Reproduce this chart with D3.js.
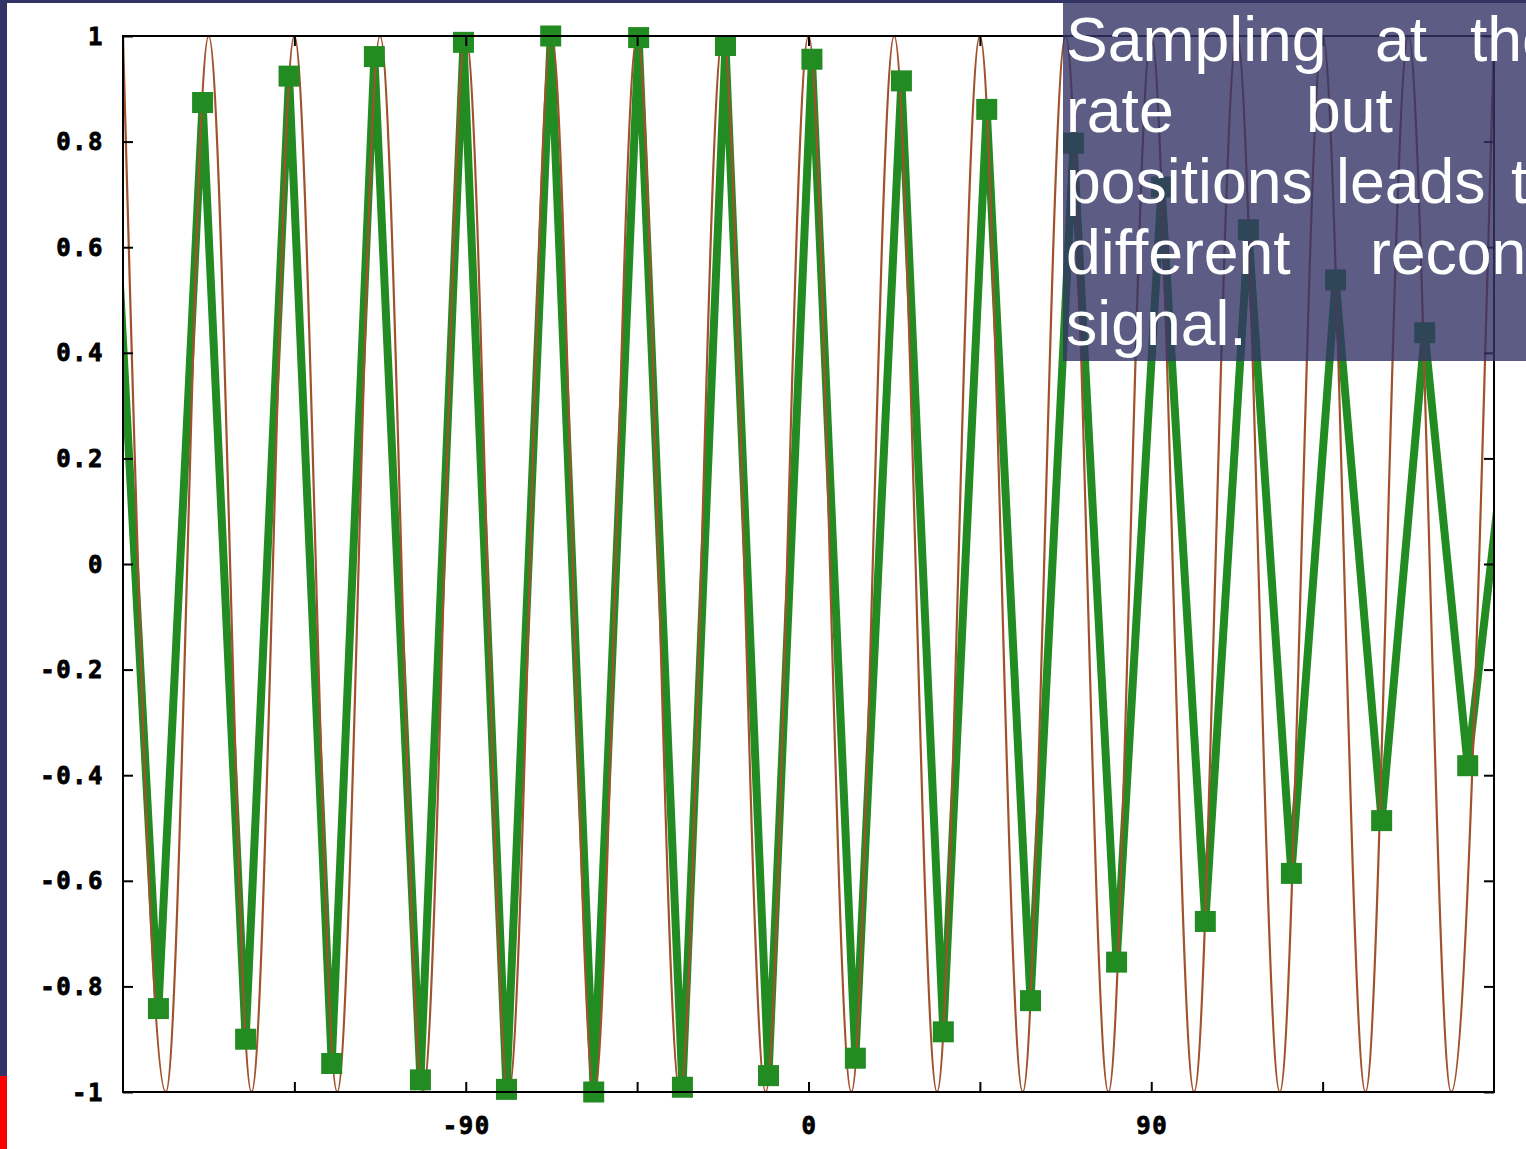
<!DOCTYPE html>
<html>
<head>
<meta charset="utf-8">
<script src="https://cdn.jsdelivr.net/npm/d3@7"></script>
<style>
  html, body { margin: 0; padding: 0; overflow: hidden; background: #333366; }
</style>
</head>
<body>
<svg id="plot"></svg>
<script>
// continuous signal: positions of its peaks and troughs (degrees) and their values
var signalX = [-180, -168.75, -157.5, -146.25, -135, -123.75, -112.5, -101.25, -90, -78.75, -67.5, -56.25,
               -45, -33.75, -22.5, -11.25, 0, 11.25, 22.5, 33.75, 45, 56.25, 67.5, 78.75,
               90, 101.25, 112.5, 123.75, 135, 146.25, 157.5, 168.75, 180];
var signalY = [1, -1, 1, -1, 1, -1, 1, -1, 1, -1, 1, -1,
               1, -1, 1, -1, 1, -1, 1, -1, 1, -1, 1, -1,
               1, -1, 1, -1, 1, -1, 1, -1, 1];

// samples taken from the signal (first and last fall just outside the plot)
var sampleX = [-182.2, -170.7, -159.1, -147.8, -136.4, -125.2, -114.0, -101.9, -90.6, -79.3, -67.7, -56.4,
               -44.6, -33.1, -21.8, -10.5, 0.9, 12.3, 24.4, 35.4, 46.8, 58.3, 69.6, 80.9,
               92.7, 104.2, 115.5, 126.8, 138.4, 150.5, 161.8, 173.1, 184.6];
var sampleY = [0.72, -0.842, 0.874, -0.900, 0.924, -0.946, 0.961, -0.977, 0.988, -0.995, 1.0, -1.0,
               0.997, -0.991, 0.982, -0.969, 0.956, -0.936, 0.915, -0.886, 0.861, -0.827, 0.797, -0.754,
               0.714, -0.677, 0.633, -0.586, 0.538, -0.486, 0.438, -0.382, 0.34];

var xTicks = [-135, -90, -45, 0, 45, 90, 135];
var xTickLabels = [-90, 0, 90];
var yTicks = [-1, -0.8, -0.6, -0.4, -0.2, 0, 0.2, 0.4, 0.6, 0.8, 1];

var W = 1526, H = 1149;
var pl = 123, pr = 1494, pt = 36, pb = 1092;

var xs = d3.scaleLinear().domain([-180, 180]).range([pl, pr]);
var ys = d3.scaleLinear().domain([-1, 1]).range([pb, pt]);

var svg = d3.select('#plot')
    .attr('width', W)
    .attr('height', H)
    .style('display', 'block');

// slide background
svg.append('rect').attr('width', W).attr('height', H).attr('fill', '#333366');
svg.append('rect').attr('x', 7).attr('y', 3).attr('width', W - 7).attr('height', H - 3).attr('fill', '#ffffff');
svg.append('rect').attr('x', 0).attr('y', 1076).attr('width', 7).attr('height', H - 1076).attr('fill', '#ff0000');

svg.append('clipPath').attr('id', 'clip')
  .append('rect')
    .attr('x', pl).attr('y', pt - 20)
    .attr('width', pr - pl).attr('height', pb - pt + 40);

var samples = sampleX.map(function(d, i) { return {x: d, y: sampleY[i]}; });
var signal = signalX.map(function(d, i) { return {x: d, y: signalY[i]}; });

var line = d3.line()
    .x(function(d) { return xs(d.x); })
    .y(function(d) { return ys(d.y); });

// sampled (reconstructed) signal
svg.append('path')
    .datum(samples)
    .attr('clip-path', 'url(#clip)')
    .attr('fill', 'none')
    .attr('stroke', '#228b22')
    .attr('stroke-width', 8)
    .attr('d', line);

// original signal
svg.append('path')
    .datum(signal)
    .attr('clip-path', 'url(#clip)')
    .attr('fill', 'none')
    .attr('stroke', '#a0522d')
    .attr('stroke-width', 2.2)
    .attr('d', line.curve(d3.curveMonotoneX));

// sample markers
var sq = 21;
svg.append('g')
  .selectAll('rect')
  .data(samples.filter(function(d) { return d.x >= -180 && d.x <= 180; }))
  .enter()
  .append('rect')
    .attr('x', function(d) { return xs(d.x) - sq / 2; })
    .attr('y', function(d) { return ys(d.y) - sq / 2; })
    .attr('width', sq)
    .attr('height', sq)
    .attr('fill', '#228b22');

// border + ticks
svg.append('rect')
    .attr('x', pl).attr('y', pt)
    .attr('width', pr - pl).attr('height', pb - pt)
    .attr('fill', 'none')
    .attr('stroke', '#000')
    .attr('stroke-width', 2);

var tl = 10;
var axisFont = 'bold 24px "DejaVu Sans Mono", monospace';

svg.append('g')
    .attr('transform', 'translate(' + pl + ',0)')
    .call(d3.axisRight(ys).tickValues(yTicks).tickSize(tl).tickFormat(''))
    .call(function(g) { g.select('.domain').remove(); });
svg.append('g')
    .attr('transform', 'translate(' + pr + ',0)')
    .call(d3.axisLeft(ys).tickValues(yTicks).tickSize(tl).tickFormat(''))
    .call(function(g) { g.select('.domain').remove(); });
svg.append('g')
    .attr('transform', 'translate(0,' + pb + ')')
    .call(d3.axisTop(xs).tickValues(xTicks).tickSize(tl).tickFormat(''))
    .call(function(g) { g.select('.domain').remove(); });
svg.append('g')
    .attr('transform', 'translate(0,' + pt + ')')
    .call(d3.axisBottom(xs).tickValues(xTicks).tickSize(tl).tickFormat(''))
    .call(function(g) { g.select('.domain').remove(); });
svg.selectAll('.tick line').attr('stroke', '#000').attr('stroke-width', 2);

// tick labels
svg.append('g')
  .selectAll('text')
  .data(yTicks)
  .enter()
  .append('text')
    .attr('x', pl - 19)
    .attr('y', function(d) { return ys(d); })
    .attr('dy', '0.36em')
    .attr('text-anchor', 'end')
    .style('font', axisFont)
    .style('letter-spacing', '1.5px')
    .attr('stroke', '#000')
    .attr('stroke-width', 0.8)
    .text(function(d) { return d3.format('')(d).replace('−', '-'); });

svg.append('g')
  .selectAll('text')
  .data(xTickLabels)
  .enter()
  .append('text')
    .attr('x', function(d) { return xs(d) + 1; })
    .attr('y', 1134)
    .attr('text-anchor', 'middle')
    .style('font', axisFont)
    .style('letter-spacing', '1.5px')
    .attr('stroke', '#000')
    .attr('stroke-width', 0.8)
    .text(function(d) { return d3.format('')(d).replace('−', '-'); });

// caption box
svg.append('rect')
    .attr('x', 1063).attr('y', 3)
    .attr('width', W - 1063).attr('height', 358)
    .attr('fill', '#333366')
    .attr('fill-opacity', 0.8);

var words = [
  [['Sampling', 1066], ['at', 1375], ['the', 1470]],
  [['rate', 1066], ['but', 1306]],
  [['positions', 1066], ['leads', 1336], ['to', 1511]],
  [['different', 1066], ['reconstructed', 1370]],
  [['signal.', 1066]]
];
var cap = svg.append('text')
    .style('font', '62.5px "Liberation Sans", Arial, sans-serif')
    .attr('fill', '#ffffff');
words.forEach(function(ln, i) {
  ln.forEach(function(w) {
    cap.append('tspan')
        .attr('x', w[1])
        .attr('y', 61 + i * 71)
        .text(w[0]);
  });
});
</script>
</body>
</html>
